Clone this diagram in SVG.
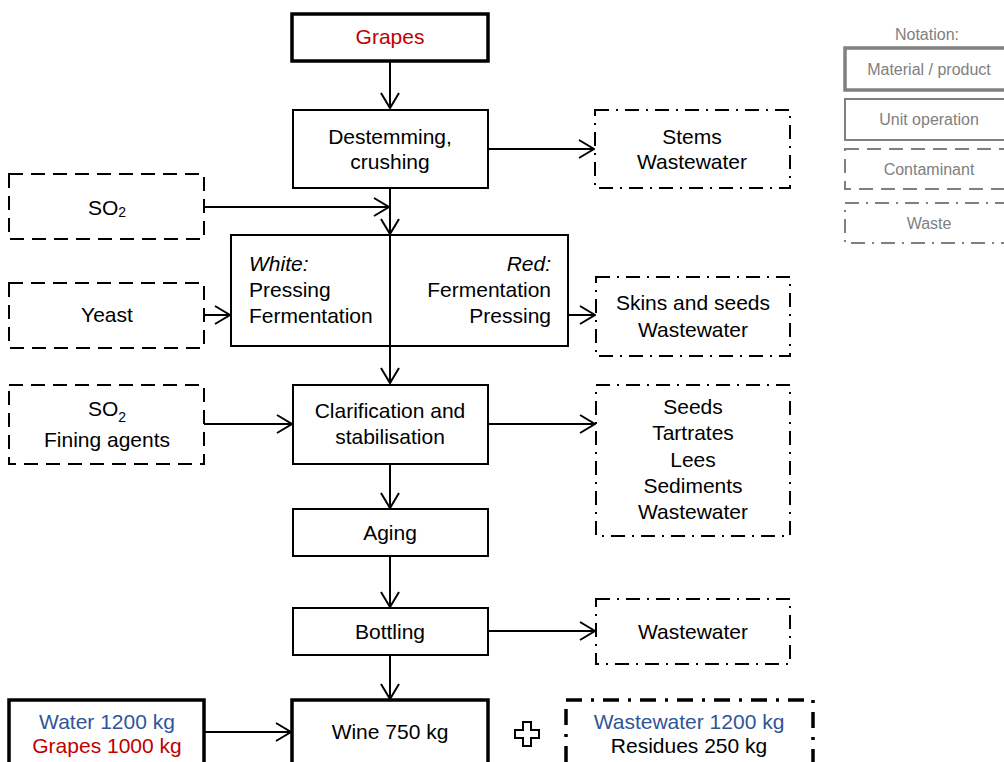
<svg xmlns="http://www.w3.org/2000/svg" width="1004" height="762" viewBox="0 0 1004 762">
<defs>
<marker id="arr" markerUnits="userSpaceOnUse" markerWidth="20" markerHeight="22" viewBox="0 0 20 22" refX="16" refY="11" orient="auto">
<path d="M1,2 L16,11 L1,20" fill="none" stroke="#000" stroke-width="2"/>
</marker>
<style>
text{font-family:"Liberation Sans",Arial,sans-serif;font-size:21px;fill:#000;text-anchor:middle}
.mat{fill:#fff;stroke:#000;stroke-width:3.5}
.op{fill:#fff;stroke:#000;stroke-width:2}
.con{fill:#fff;stroke:#000;stroke-width:2;stroke-dasharray:14 8}
.was{fill:#fff;stroke:#000;stroke-width:2;stroke-dasharray:14 7 2 7}
.wasT{fill:#fff;stroke:#000;stroke-width:3.5;stroke-dasharray:16 9 3 9}
.red{fill:#c00000}
.blue{fill:#2f5597}
.lg text{font-size:16px;fill:#808080}
.lg rect{fill:#fff;stroke:#808080}
.c line,.c path{stroke:#000;stroke-width:2;fill:none}
</style>
</defs>

<g class="c" id="connectors">
<line x1="390" y1="61" x2="390" y2="108" marker-end="url(#arr)"/>
<line x1="488" y1="149" x2="594" y2="149" marker-end="url(#arr)"/>
<line x1="204" y1="207" x2="389" y2="207" marker-end="url(#arr)"/>
<line x1="390" y1="188" x2="390" y2="234" marker-end="url(#arr)"/>
<line x1="204" y1="315" x2="230" y2="315" marker-end="url(#arr)"/>
<line x1="568" y1="315" x2="595" y2="315" marker-end="url(#arr)"/>
<line x1="390" y1="235" x2="390" y2="383" marker-end="url(#arr)"/>
<line x1="204" y1="424" x2="292" y2="424" marker-end="url(#arr)"/>
<line x1="488" y1="424" x2="595" y2="424" marker-end="url(#arr)"/>
<line x1="390" y1="464" x2="390" y2="508" marker-end="url(#arr)"/>
<line x1="390" y1="556" x2="390" y2="607" marker-end="url(#arr)"/>
<line x1="488" y1="631" x2="595" y2="631" marker-end="url(#arr)"/>
<line x1="390" y1="655" x2="390" y2="699" marker-end="url(#arr)"/>
<line x1="204" y1="732" x2="291" y2="732" marker-end="url(#arr)"/>
</g>

<g id="grapes"><rect class="mat" x="292" y="14" width="196" height="47"/><text class="red" x="390" y="44">Grapes</text></g>
<g id="destemming"><rect class="op" x="293" y="110" width="195" height="78"/><text x="390" y="144">Destemming,</text><text x="390" y="169">crushing</text></g>
<g id="stems"><rect class="was" x="595" y="110" width="195" height="78"/><text x="692" y="144">Stems</text><text x="692" y="169">Wastewater</text></g>
<g id="so2a"><rect class="con" x="9" y="174" width="195" height="65"/><text x="107" y="215">SO<tspan font-size="14" dy="2">2</tspan></text></g>
<g id="ferment"><rect class="op" x="231" y="235" width="337" height="111"/><line x1="390" y1="235" x2="390" y2="346" stroke="#000" stroke-width="2"/>
<text x="249" y="271" style="text-anchor:start;font-style:italic">White:</text>
<text x="249" y="297" style="text-anchor:start">Pressing</text>
<text x="249" y="323" style="text-anchor:start">Fermentation</text>
<text x="551" y="271" style="text-anchor:end;font-style:italic">Red:</text>
<text x="551" y="297" style="text-anchor:end">Fermentation</text>
<text x="551" y="323" style="text-anchor:end">Pressing</text></g>
<g id="yeast"><rect class="con" x="9" y="283" width="195" height="65"/><text x="107" y="322">Yeast</text></g>
<g id="skins"><rect class="was" x="596" y="277" width="194" height="79"/><text x="693" y="310">Skins and seeds</text><text x="693" y="337">Wastewater</text></g>
<g id="so2b"><rect class="con" x="9" y="385" width="195" height="79"/><text x="107" y="416">SO<tspan font-size="14" dy="6">2</tspan></text><text x="107" y="447">Fining agents</text></g>
<g id="clarif"><rect class="op" x="293" y="385" width="195" height="79"/><text x="390" y="418">Clarification and</text><text x="390" y="444">stabilisation</text></g>
<g id="seeds"><rect class="was" x="596" y="385" width="194" height="151"/><text x="693" y="414">Seeds</text><text x="693" y="440">Tartrates</text><text x="693" y="467">Lees</text><text x="693" y="493">Sediments</text><text x="693" y="519">Wastewater</text></g>
<g id="aging"><rect class="op" x="293" y="509" width="195" height="47"/><text x="390" y="540">Aging</text></g>
<g id="bottling"><rect class="op" x="293" y="608" width="195" height="47"/><text x="390" y="639">Bottling</text></g>
<g id="ww"><rect class="was" x="596" y="599" width="194" height="65"/><text x="693" y="639">Wastewater</text></g>
<g id="inputs"><rect class="mat" x="9" y="700" width="195" height="80"/><text class="blue" x="107" y="729">Water 1200 kg</text><text class="red" x="107" y="753">Grapes 1000 kg</text></g>
<g id="wine"><rect class="mat" x="292" y="700" width="196" height="80"/><text x="390" y="739">Wine 750 kg</text></g>
<g id="plus"><path d="M523,722 h8 v8 h8 v8 h-8 v8 h-8 v-8 h-8 v-8 h8 z" fill="#fff" stroke="#000" stroke-width="2"/></g>
<g id="outputs"><rect class="wasT" x="566" y="700" width="247" height="80"/><text class="blue" x="689" y="729">Wastewater 1200 kg</text><text x="689" y="753">Residues 250 kg</text></g>

<g class="lg" id="legend">
<text x="927" y="40">Notation:</text>
<rect x="845" y="48" width="170" height="42" stroke-width="3.5"/><text x="929" y="75">Material / product</text>
<rect x="845" y="99" width="170" height="41" stroke-width="2"/><text x="929" y="125">Unit operation</text>
<rect x="845" y="149" width="170" height="40" stroke-width="2" stroke-dasharray="14 8"/><text x="929" y="175">Contaminant</text>
<rect x="845" y="203" width="170" height="40" stroke-width="2" stroke-dasharray="14 7 2 7"/><text x="929" y="229">Waste</text>
</g>
</svg>
